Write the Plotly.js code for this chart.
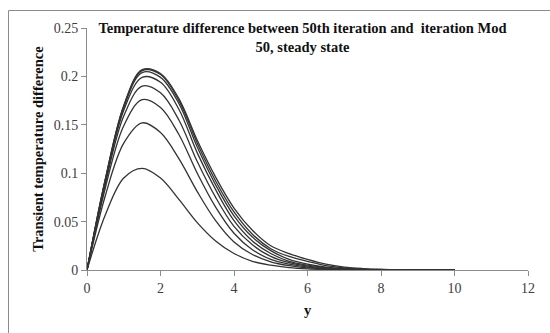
<!DOCTYPE html>
<html>
<head>
<meta charset="utf-8">
<script src="https://cdn.plot.ly/plotly-3.0.1.min.js"></script>
<style>
html,body{margin:0;padding:0;background:#fff;}
#chart{width:550px;height:333px;}
</style>
</head>
<body>
<div id="chart"></div>
<script>
// y positions (x-axis values)
const yPos = [0, 0.5, 1, 1.5, 2, 2.5, 3, 3.5, 4, 4.5, 5, 5.5, 6, 6.5, 7, 7.5, 8, 8.5, 9, 9.5, 10];

// Transient temperature difference curves
const curve1 = [0, 0.057, 0.095, 0.105, 0.095, 0.073, 0.049, 0.030, 0.017, 0.009, 0.005, 0.0025, 0.0012, 0.0006, 0.0003, 0.0001, 0, 0, 0, 0, 0];
const curve2 = [0, 0.077, 0.131, 0.152, 0.142, 0.115, 0.081, 0.051, 0.029, 0.016, 0.0085, 0.0045, 0.0022, 0.001, 0.0005, 0.0002, 0.0001, 0, 0, 0, 0];
const curve3 = [0, 0.085, 0.149, 0.176, 0.168, 0.140, 0.100, 0.065, 0.038, 0.021, 0.011, 0.006, 0.003, 0.0015, 0.0007, 0.0003, 0.0001, 0, 0, 0, 0];
const curve4 = [0, 0.089, 0.159, 0.190, 0.183, 0.155, 0.112, 0.075, 0.045, 0.026, 0.014, 0.0075, 0.004, 0.002, 0.001, 0.0005, 0.0002, 0.0001, 0, 0, 0];
const curve5 = [0, 0.091, 0.165, 0.199, 0.194, 0.166, 0.121, 0.083, 0.051, 0.030, 0.017, 0.009, 0.005, 0.0025, 0.0012, 0.0006, 0.0003, 0.0002, 0.0001, 0, 0];
const curve6 = [0, 0.093, 0.168, 0.204, 0.199, 0.172, 0.127, 0.088, 0.056, 0.034, 0.020, 0.011, 0.006, 0.003, 0.0015, 0.0007, 0.0003, 0.0002, 0.0001, 0, 0];
const curve7 = [0, 0.094, 0.169, 0.206, 0.202, 0.175, 0.131, 0.092, 0.060, 0.037, 0.022, 0.014, 0.009, 0.0045, 0.0022, 0.001, 0.0005, 0.0003, 0.0001, 0, 0];
const curve8 = [0, 0.094, 0.170, 0.207, 0.203, 0.177, 0.134, 0.096, 0.064, 0.041, 0.025, 0.017, 0.011, 0.006, 0.003, 0.0015, 0.0007, 0.0004, 0.0002, 0.0001, 0];

const curves = [curve1, curve2, curve3, curve4, curve5, curve6, curve7, curve8];

const serif = '"Liberation Serif", "Times New Roman", serif';

const traces = curves.map(c => ({
  x: yPos, y: c, type: 'scatter', mode: 'lines',
  line: {color: '#333333', width: 1.3, shape: 'spline', smoothing: 1},
  hoverinfo: 'skip', showlegend: false
}));

const layout = {
  width: 550, height: 333,
  margin: {l: 87, r: 22, t: 28, b: 63, pad: 0},
  paper_bgcolor: '#fff', plot_bgcolor: '#fff',
  font: {family: serif, color: '#333'},
  title: {
    text: '<b>Temperature difference between 50th iteration and  iteration Mod<br>50, steady state</b>',
    font: {family: serif, size: 14.5, color: '#111'},
    x: 0.55, xanchor: 'center', y: 0.9, yanchor: 'top', yref: 'container'
  },
  xaxis: {
    range: [0, 12], dtick: 2, tick0: 0,
    showgrid: false, zeroline: false,
    showline: true, linecolor: '#8c8c8c', linewidth: 1,
    ticks: 'outside', ticklen: 5, tickcolor: '#8c8c8c',
    tickfont: {family: serif, size: 14, color: '#404040'},
    title: {text: '<b>y</b>', font: {family: serif, size: 14.5, color: '#111'}, standoff: 10}
  },
  yaxis: {
    range: [0, 0.25], dtick: 0.05, tick0: 0,
    showgrid: false, zeroline: false,
    showline: true, linecolor: '#8c8c8c', linewidth: 1,
    ticks: 'outside', ticklen: 5, tickcolor: '#8c8c8c',
    tickfont: {family: serif, size: 14, color: '#404040'},
    title: {text: '<b>Transient temperature difference</b>', font: {family: serif, size: 14.5, color: '#111'}, standoff: 6}
  },
  shapes: [{
    type: 'rect', xref: 'paper', yref: 'paper',
    x0: -0.178, x1: 1.06, y0: -0.27, y1: 1.0723,
    line: {color: '#8c8c8c', width: 1}, fillcolor: 'rgba(0,0,0,0)', layer: 'below'
  }]
};

Plotly.newPlot('chart', traces, layout, {staticPlot: true, displayModeBar: false});
</script>
</body>
</html>
